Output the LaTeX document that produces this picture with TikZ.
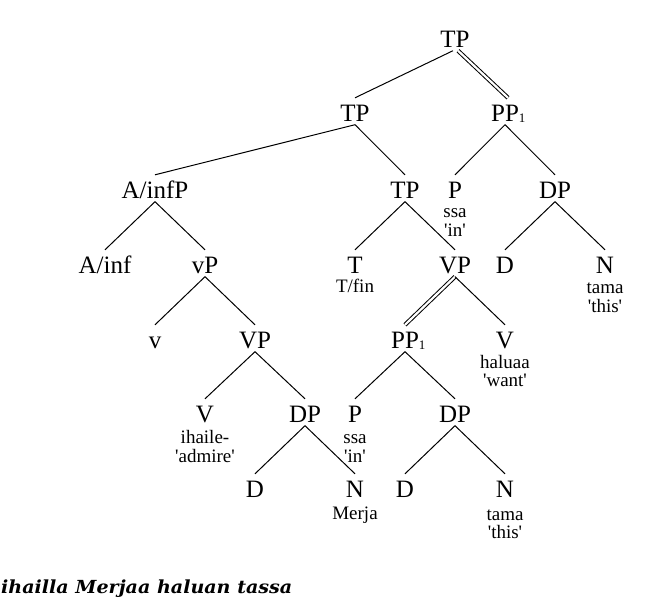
\documentclass[tikz,border=0pt]{standalone}
\usepackage{fontspec}
\setmainfont{Liberation Serif}
\newfontfamily\glfont{Liberation Serif}
\newfontfamily\botfont{DejaVu Serif}
\begin{document}
\begin{tikzpicture}[x=1pt,y=-1pt,
  cat/.style={anchor=base, inner xsep=1pt, inner ysep=3pt, text height=20pt, text depth=0.5pt, font=\fontsize{25}{26}\selectfont},
  gl/.style={anchor=base, inner sep=0pt, font=\glfont\fontsize{19}{19}\selectfont},
  br/.style={line width=1pt},
  dbl/.style={double, double distance=2.2pt, line width=1pt}]
\useasboundingbox (0,0) rectangle (650,600);
\newcommand{\subone}{\rlap{\raisebox{-1pt}{\fontsize{13}{13}\selectfont 1}}}
% level 0
\node[cat] (root) at (455,47) {TP};
% level 1
\node[cat] (tpb) at (355,121) {TP};
\node[cat] (ppa) at (505,121) {PP\subone};
% level 2
\node[cat] (ainfp) at (155,198) {A/infP};
\node[cat] (tpc) at (405,198) {TP};
\node[cat] (pa) at (455,198) {P};
\node[gl] (pa1) at (455,217) {ssa};
\node[gl] (pa2) at (455,236) {'in'};
\node[cat] (dpa) at (555,198) {DP};
% level 3
\node[cat] (ainf) at (105,273) {A/inf};
\node[cat] (vp) at (205,273) {vP};
\node[cat] (t) at (355,273) {T};
\node[gl] (t1) at (355,292) {T/fin};
\node[cat] (vpb) at (455,273) {VP};
\node[cat] (da) at (505,273) {D};
\node[cat] (na) at (605,273) {N};
\node[gl] (na1) at (605,293) {tama};
\node[gl] (na2) at (605,312) {'this'};
% level 4
\node[cat] (v) at (155,348) {v};
\node[cat] (vpc) at (255,348) {VP};
\node[cat] (ppb) at (405,348) {PP\subone};
\node[cat] (vb) at (505,348) {V};
\node[gl] (vb1) at (505,368) {haluaa};
\node[gl] (vb2) at (505,386) {'want'};
% level 5
\node[cat] (vc) at (205,422) {V};
\node[gl] (vc1) at (205,443) {ihaile-};
\node[gl] (vc2) at (205,462) {'admire'};
\node[cat] (dpc) at (305,422) {DP};
\node[cat] (pc) at (355,422) {P};
\node[gl] (pc1) at (355,443) {ssa};
\node[gl] (pc2) at (355,462) {'in'};
\node[cat] (dpd) at (455,422) {DP};
% level 6
\node[cat] (dc) at (255,497) {D};
\node[cat] (nc) at (355,497) {N};
\node[gl] (nc1) at (355,519) {Merja};
\node[cat] (dd) at (405,497) {D};
\node[cat] (nd) at (505,497) {N};
\node[gl] (nd1) at (505,520) {tama};
\node[gl] (nd2) at (505,538) {'this'};
% bottom sentence
\node[anchor=base west, inner sep=0pt, font=\botfont\bfseries\itshape\fontsize{18}{19}\selectfont] (sent) at (1,593) {\scalebox{1.06}[1]{ihailla Merjaa haluan tassa}};
% branches
\draw[br] ([xshift=-2pt]root.south) -- (tpb.north);
\draw[dbl] ([xshift=3pt]root.south) -- ([xshift=3pt]ppa.north);
\draw[br] (tpb.south) -- (ainfp.north);
\draw[br] (tpb.south) -- (tpc.north);
\draw[br] (ppa.south) -- (pa.north);
\draw[br] (ppa.south) -- (dpa.north);
\draw[br] (ainfp.south) -- (ainf.north);
\draw[br] (ainfp.south) -- (vp.north);
\draw[br] (tpc.south) -- (t.north);
\draw[br] (tpc.south) -- (vpb.north);
\draw[br] (dpa.south) -- (da.north);
\draw[br] (dpa.south) -- (na.north);
\draw[br] (vp.south) -- (v.north);
\draw[br] (vp.south) -- (vpc.north);
\draw[dbl] (vpb.south) -- (ppb.north);
\draw[br] (vpb.south) -- (vb.north);
\draw[br] (vpc.south) -- (vc.north);
\draw[br] (vpc.south) -- (dpc.north);
\draw[br] (ppb.south) -- (pc.north);
\draw[br] (ppb.south) -- (dpd.north);
\draw[br] (dpc.south) -- (dc.north);
\draw[br] (dpc.south) -- (nc.north);
\draw[br] (dpd.south) -- (dd.north);
\draw[br] (dpd.south) -- (nd.north);
\end{tikzpicture}
\end{document}
